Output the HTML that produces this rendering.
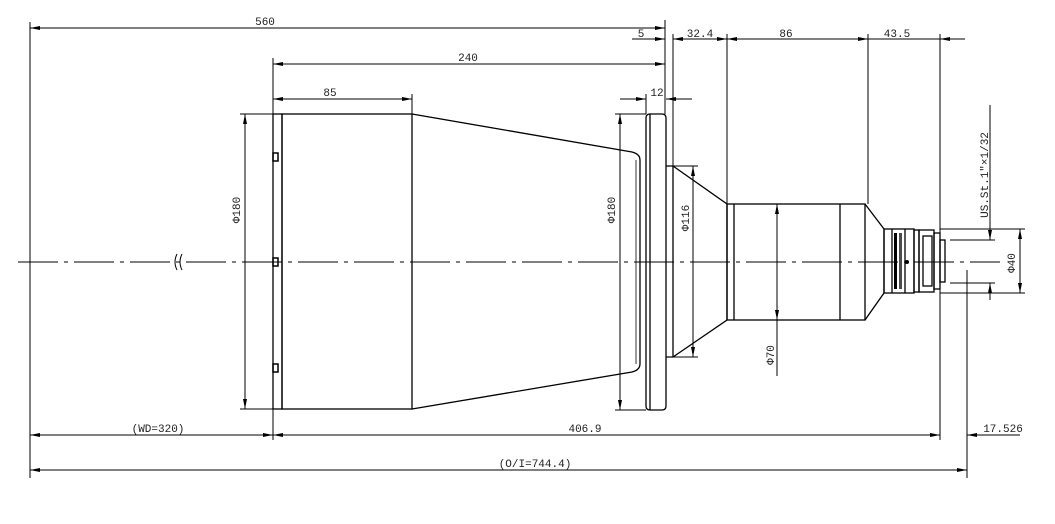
<!DOCTYPE html>
<html><head><style>body{margin:0;background:#fff}svg{display:block}</style></head><body>
<svg width="1055" height="524" viewBox="0 0 1055 524" xmlns="http://www.w3.org/2000/svg" font-family="Liberation Mono, monospace" font-size="11">
<defs>
<marker id="a" viewBox="0 0 10 4" refX="10" refY="2" markerWidth="10" markerHeight="4" orient="auto-start-reverse" markerUnits="userSpaceOnUse"><path d="M0,0L10,2L0,4z" fill="#000"/></marker>
</defs>
<g stroke="#000" fill="none" stroke-width="1">
<line x1="18" y1="262" x2="1000" y2="262" stroke-dasharray="40,6,4,6"/>
<path d="M177,254 q-4,8 0,16 M182,254 q-4,8 0,16"/>
<line x1="30" y1="22" x2="30" y2="478"/>
<line x1="273" y1="58" x2="273" y2="440"/>
<line x1="665" y1="20" x2="665" y2="114"/>
<line x1="673" y1="34" x2="673" y2="166"/>
<line x1="727" y1="34" x2="727" y2="204"/>
<line x1="868" y1="34" x2="868" y2="204"/>
<line x1="940" y1="34" x2="940" y2="440"/>
<line x1="967" y1="270" x2="967" y2="478"/>
<line x1="412" y1="94" x2="412" y2="114"/>
<line x1="646" y1="94" x2="646" y2="114"/>
<line x1="30" y1="28" x2="665" y2="28" marker-start="url(#a)" marker-end="url(#a)"/>
<line x1="273" y1="64" x2="665" y2="64" marker-start="url(#a)" marker-end="url(#a)"/>
<line x1="273" y1="99" x2="412" y2="99" marker-start="url(#a)" marker-end="url(#a)"/>
<line x1="632" y1="39" x2="665" y2="39" marker-end="url(#a)"/>
<line x1="673" y1="39" x2="727" y2="39" marker-start="url(#a)" marker-end="url(#a)"/>
<line x1="727" y1="39" x2="868" y2="39" marker-start="url(#a)" marker-end="url(#a)"/>
<line x1="868" y1="39" x2="965" y2="39"/>
<line x1="965" y1="39" x2="940" y2="39" marker-end="url(#a)"/>
<line x1="620" y1="99" x2="646" y2="99" marker-end="url(#a)"/>
<line x1="692" y1="99" x2="666" y2="99" marker-end="url(#a)"/>
<line x1="30" y1="435" x2="273" y2="435" marker-start="url(#a)" marker-end="url(#a)"/>
<line x1="273" y1="435" x2="940" y2="435" marker-start="url(#a)" marker-end="url(#a)"/>
<line x1="1020" y1="435" x2="967" y2="435" marker-end="url(#a)"/>
<line x1="30" y1="470" x2="967" y2="470" marker-start="url(#a)" marker-end="url(#a)"/>
<line x1="240" y1="114" x2="273" y2="114"/><line x1="240" y1="409" x2="273" y2="409"/>
<line x1="245" y1="114" x2="245" y2="409" marker-start="url(#a)" marker-end="url(#a)"/>
<line x1="615" y1="114" x2="646" y2="114"/><line x1="615" y1="410" x2="646" y2="410"/>
<line x1="620" y1="114" x2="620" y2="410" marker-start="url(#a)" marker-end="url(#a)"/>
<line x1="673" y1="166" x2="698" y2="166"/><line x1="673" y1="357" x2="698" y2="357"/>
<line x1="693" y1="166" x2="693" y2="357" marker-start="url(#a)" marker-end="url(#a)"/>
<line x1="777" y1="204" x2="777" y2="320" marker-start="url(#a)" marker-end="url(#a)"/>
<line x1="777" y1="320" x2="777" y2="376"/>
<line x1="940" y1="229" x2="1025" y2="229"/><line x1="940" y1="293" x2="1025" y2="293"/>
<line x1="1020" y1="229" x2="1020" y2="293" marker-start="url(#a)" marker-end="url(#a)"/>
<line x1="950" y1="240" x2="995" y2="240"/><line x1="950" y1="283" x2="995" y2="283"/>
<line x1="990" y1="105" x2="990" y2="240" marker-end="url(#a)"/>
<line x1="990" y1="300" x2="990" y2="283" marker-end="url(#a)"/>
<g stroke-width="1.3">
<rect x="273" y="114" width="9" height="295"/>
<rect x="282" y="114" width="130" height="295"/>
<path d="M412,114 L632,152 Q640,154 640,160 L640,364 Q640,370 632,372 L412,409"/>
<path d="M646,118 q0,-4 4,-4 h12 q4,0 4,4 v288 q0,4 -4,4 h-12 q-4,0 -4,-4z"/>
<line x1="650" y1="114" x2="650" y2="410"/>
<line x1="636" y1="160" x2="636" y2="364" stroke-width="0.8"/>
<path d="M666,166 h7 L727,204 L727,320 L673,357 h-7"/>
<line x1="673" y1="166" x2="673" y2="357"/>
<rect x="727" y="204" width="138" height="116"/>
<line x1="734" y1="204" x2="734" y2="320"/>
<line x1="840" y1="204" x2="840" y2="320"/>
<path d="M865,204 L884,229 L884,293 L865,320"/>
<rect x="884" y="229" width="30" height="64"/>
<line x1="892" y1="229" x2="892" y2="293"/>
<line x1="905" y1="229" x2="905" y2="293"/>
<rect x="914" y="230" width="5" height="62"/>
<rect x="919" y="230" width="15" height="62"/>
<rect x="923" y="236" width="9" height="50"/>
<rect x="934" y="233" width="6" height="56"/>
<rect x="940" y="240" width="5" height="42"/>
</g>
<g stroke-width="1.5">
<rect x="273" y="153" width="5" height="8"/><rect x="273" y="258" width="5" height="8"/><rect x="273" y="364" width="5" height="8"/>
</g>
</g>
<g fill="#000">
<rect x="894" y="233" width="3" height="56"/><rect x="899" y="233" width="3" height="56" opacity=".7"/><circle cx="907" cy="262" r="2"/>
</g>
<g fill="#222" text-anchor="middle">
<text x="265" y="25">560</text>
<text x="468" y="61">240</text>
<text x="330" y="96">85</text>
<text x="641" y="37">5</text>
<text x="700" y="37">32.4</text>
<text x="786" y="37">86</text>
<text x="897" y="37">43.5</text>
<text x="657" y="96">12</text>
<text x="158" y="432">(WD=320)</text>
<text x="585" y="432">406.9</text>
<text x="1003" y="432">17.526</text>
<text x="535" y="467">(O/I=744.4)</text>
<text transform="translate(240,210) rotate(-90)">Φ180</text>
<text transform="translate(615,210) rotate(-90)">Φ180</text>
<text transform="translate(689,218) rotate(-90)">Φ116</text>
<text transform="translate(774,355) rotate(-90)">Φ70</text>
<text transform="translate(1015,263) rotate(-90)">Φ40</text>
<text transform="translate(988,175) rotate(-90)">US.St.1"×1/32</text>
</g>
</svg>
</body></html>
